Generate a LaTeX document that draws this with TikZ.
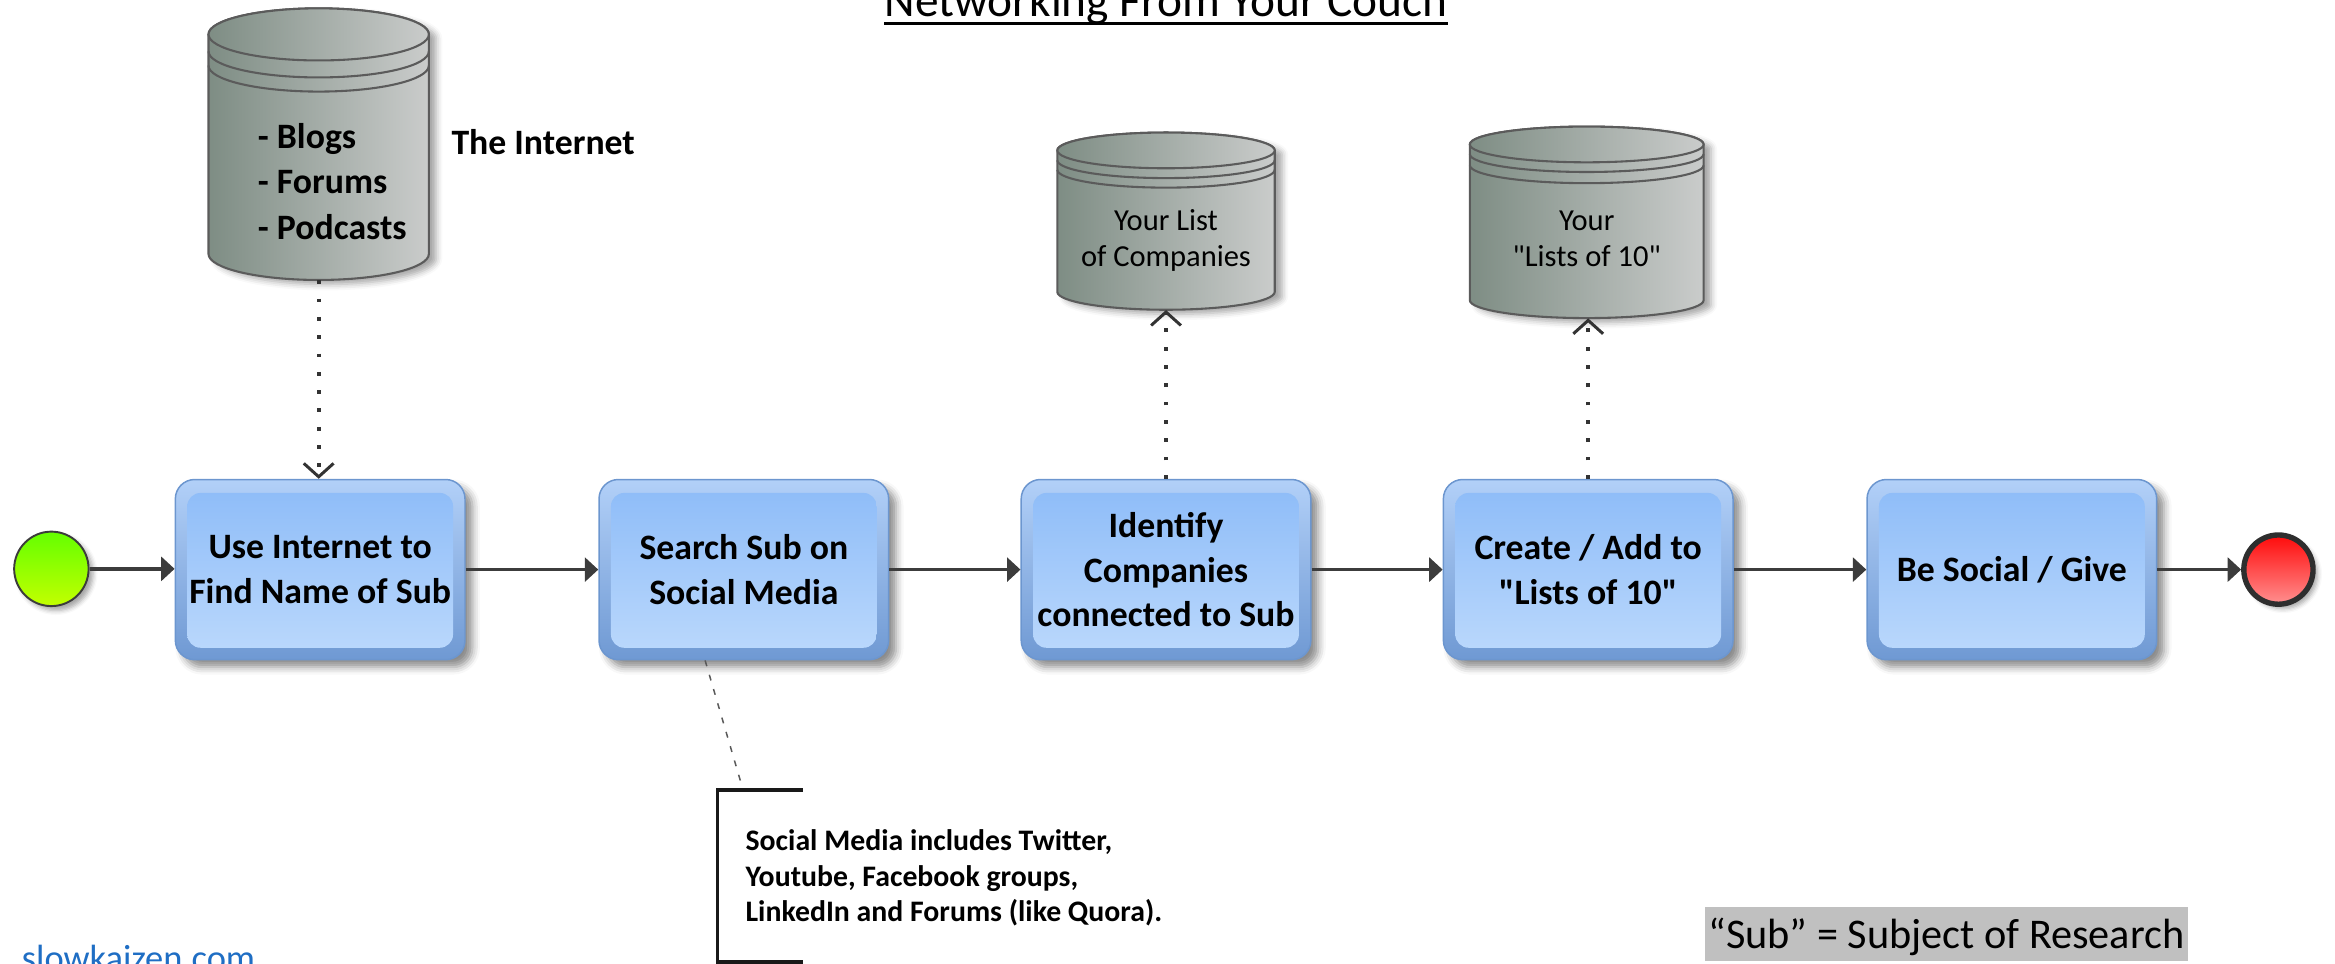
\documentclass[tikz,border=0pt]{standalone}
\usepackage{fontspec}
\setmainfont{Carlito}[Ligatures=TeXOff]
\usetikzlibrary{arrows.meta,shadows.blur}

\definecolor{drumL}{HTML}{7E8D84}
\definecolor{drumR}{HTML}{CACCCB}
\definecolor{drumline}{HTML}{5B5B5B}
\definecolor{taskedge}{HTML}{6C96CF}
\definecolor{taskbandtop}{HTML}{B2D0F8}
\definecolor{taskbandbot}{HTML}{6F99D3}
\definecolor{taskinA}{HTML}{8CBBF8}
\definecolor{taskinB}{HTML}{BCD9FC}
\definecolor{flowgray}{HTML}{3C3C3C}
\definecolor{startA}{HTML}{64FF00}
\definecolor{startB}{HTML}{C3FF00}
\definecolor{endA}{HTML}{FF0A0A}
\definecolor{endB}{HTML}{FF9090}
\definecolor{linkblue}{HTML}{1F6EC4}
\definecolor{legendgray}{HTML}{C0C0C0}

% data store drawn as a cylinder with two rim bands;
% #1 name, #2 left, #3 right, #4 top, #5 bottom, #6 rim radius, #7 #8 band offsets
\newcommand\storagedrum[8]{%
  \pgfmathsetmacro\drmrx{(#3-#2)/2}%
  \pgfmathsetmacro\drmcx{(#2+#3)/2}%
  \pgfmathsetmacro\drmtop{#4+#6}%
  \pgfmathsetmacro\drmbot{#5-#6}%
  \pgfmathsetmacro\drmbA{\drmtop+#7}%
  \pgfmathsetmacro\drmbB{\drmtop+#8}%
  \pgfmathsetmacro\drmcy{(#4+#5)/2}%
  \pgfmathsetmacro\drmw{#3-#2}%
  \pgfmathsetmacro\drmh{#5-#4}%
  \path[drumbody, blur shadow={shadow xshift=5pt,shadow yshift=-3pt,shadow blur radius=4pt,shadow opacity=35}]
    (#2,\drmtop) -- (#2,\drmbot)
    arc[start angle=180,end angle=360,x radius=\drmrx pt,y radius=#6 pt]
    -- (#3,\drmtop)
    arc[start angle=0,end angle=180,x radius=\drmrx pt,y radius=#6 pt] -- cycle;
  \path[drumbody] (\drmcx,\drmtop) ellipse[x radius=\drmrx pt,y radius=#6 pt];
  \draw[drumline,line width=1.4pt] (#2,\drmbA) arc[start angle=180,end angle=360,x radius=\drmrx pt,y radius=#6 pt];
  \draw[drumline,line width=1.4pt] (#2,\drmbB) arc[start angle=180,end angle=360,x radius=\drmrx pt,y radius=#6 pt];
  \node[inner sep=0pt,minimum width=\drmw pt,minimum height=\drmh pt] (#1) at (\drmcx,\drmcy) {};%
}

\begin{document}
\begin{tikzpicture}[x=1pt,y=-1pt,
  drumbody/.style={left color=drumL,right color=drumR,draw=drumline,line width=1.4pt},
  task/.style={rectangle,rounded corners=13pt,minimum width=194.5pt,minimum height=121pt,
    inner sep=0pt,align=center,font=\bfseries\fontsize{24}{30}\selectfont,
    draw=taskedge,line width=1pt,top color=taskbandtop,bottom color=taskbandbot,
    blur shadow={shadow xshift=5pt,shadow yshift=-5pt,shadow blur radius=5pt,shadow opacity=45},
    path picture={\shade[top color=taskinA,bottom color=taskinB,rounded corners=9pt]
      ([shift={(8pt,-9pt)}]path picture bounding box.north west) rectangle
      ([shift={(-8pt,8pt)}]path picture bounding box.south east);}},
  startev/.style={circle,minimum size=50pt,inner sep=0pt,draw=flowgray,line width=1.3pt,
    top color=startA,bottom color=startB,
    blur shadow={shadow xshift=3pt,shadow yshift=-3pt,shadow blur radius=3pt,shadow opacity=35}},
  endev/.style={circle,minimum size=46.5pt,inner sep=0pt,draw=black!82,line width=3.6pt,
    top color=endA,bottom color=endB,
    blur shadow={shadow xshift=3pt,shadow yshift=-3pt,shadow blur radius=3pt,shadow opacity=35}},
  flow/.style={draw=flowgray,line width=2.2pt,-{Triangle[length=9pt,width=16pt]}},
  assoc/.style={draw=black!80,line width=2.6pt,dash pattern=on 2.6pt off 9.7pt,
    -{Straight Barb[length=9pt,width=20pt,line width=2pt]}},
  noteline/.style={draw=black!65,line width=1pt,dash pattern=on 4pt off 6pt},
  bracket/.style={draw=black!90,line width=2.2pt},
  drumlabel/.style={align=center,anchor=base,font=\fontsize{20.5}{24.5}\selectfont}
]
\useasboundingbox (0,0) rectangle (1568,647);

% heading
\node[inner sep=0pt,anchor=base,font=\fontsize{31.8}{36}\selectfont] (title) at (783,11.2) {Networking From Your Couch};
\draw[line width=2pt] ([yshift=-4.8pt]title.base west) -- ([yshift=-4.8pt]title.base east);

% data stores
\storagedrum{inet}{140}{288}{5.6}{188}{17.5}{11.4}{20.9}
\storagedrum{lc}{710}{856}{89}{208}{12}{6.6}{13}
\storagedrum{lten}{987}{1144}{85}{213.6}{12}{6.5}{14}

% multi-line labels are anchored at the baseline of their last line
\node[anchor=base west,align=left,inner sep=0pt,font=\bfseries\fontsize{24}{30.5}\selectfont] (inettxt) at (173,160.6) {- Blogs\\- Forums\\- Podcasts};
\node[anchor=base west,inner sep=0pt,font=\bfseries\fontsize{24}{29}\selectfont] (inetlbl) at (303,103.5) {The Internet};
\node[drumlabel] (lctxt) at (783,179) {Your List\\of Companies};
\node[drumlabel] (ltentxt) at (1065.5,179) {Your\\"Lists of 10"};

% process
\node[startev] (start) at (34.5,382) {};
\node[task] (b1) at (215,382.5) {Use Internet to\\Find Name of Sub};
\node[task] (b2) at (499.5,382.5) {Search Sub on\\Social Media};
\node[task] (b3) at (783,382.5) {Identify\\Companies\\connected to Sub};
\node[task] (b4) at (1066.5,382.5) {Create / Add to\\"Lists of 10"};
\node[task] (b5) at (1351,382.5) {Be Social / Give};
\node[endev] (finish) at (1530,382.5) {};

\draw[flow] (start.east) -- (start.east -| b1.west);
\draw[flow] (b1.east) -- (b2.west);
\draw[flow] (b2.east) -- (b3.west);
\draw[flow] (b3.east) -- (b4.west);
\draw[flow] (b4.east) -- (b5.west);
\draw[flow] (b5.east) -- (b5.east -| finish.west);

% associations with the data stores
\draw[assoc] (inet.south) -- (inet.south |- b1.north);
\draw[assoc] (b3.north) -- (b3.north |- lc.south);
\draw[assoc] (b4.north) -- (b4.north |- lten.south);

% annotation
\coordinate (noteA) at (539,530.5);
\coordinate (noteB) at (482,530.5);
\coordinate (noteC) at (482,646);
\coordinate (noteD) at (539,646);
\coordinate (notehook) at (499,530.5);
\draw[noteline] ([xshift=-26pt]b2.south) -- (notehook);
\draw[bracket] (noteA) -- (noteB) -- (noteC) -- (noteD);
\node[anchor=base west,align=left,inner sep=0pt,font=\bfseries\fontsize{20}{24}\selectfont] (note) at (500.5,619)
  {Social Media includes Twitter,\\Youtube, Facebook groups,\\LinkedIn and Forums (like Quora).};

% footer
\node[anchor=base west,inner sep=0pt,text=linkblue,font=\fontsize{24.5}{28}\selectfont] (site) at (14.5,651.4) {slowkaizen.com};
\node[anchor=base west,fill=legendgray,inner xsep=2.5pt,inner ysep=0pt,text height=28pt,text depth=8pt,
  font=\fontsize{28.4}{32}\selectfont] (legend) at (1144.5,637) {“Sub” = Subject of Research};
\end{tikzpicture}
\end{document}
